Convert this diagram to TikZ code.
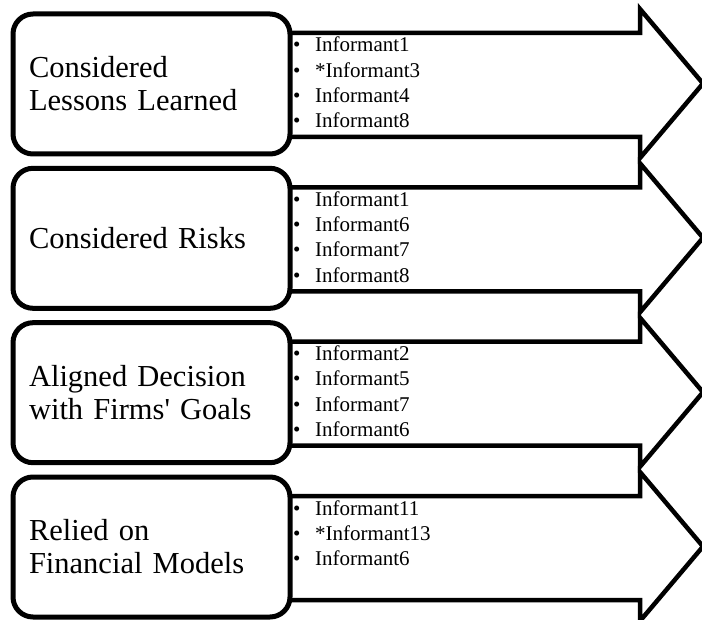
\documentclass[tikz,border=0pt]{standalone}
\usepackage{fontspec}
\setmainfont{Liberation Serif}[Ligatures=TeXOff]

\begin{document}
\begin{tikzpicture}[x=1pt,y=-1pt]
  \tikzset{theme/.style={draw, line width=5pt, rounded corners=20pt, fill=white,
      anchor=north west, outer sep=0pt, minimum width=277pt, minimum height=140pt,
      text width=245pt, align=left, inner xsep=16pt,
      font=\fontsize{30.5}{33}\selectfont},
    bigarrow/.style={draw, line width=4.5pt, fill=white},
    item/.style={anchor=base west, inner sep=0pt, font=\fontsize{21}{25}\selectfont}}
  \useasboundingbox (0,0) rectangle (702,620);

  % the four arrows behind the boxes
  \foreach \t in {14,168.3,322.7,477}
    \draw[bigarrow] (200,\t+19) -- (640,\t+19) -- (640,\t-5) -- (703,\t+69.5)
      -- (640,\t+144) -- (640,\t+123) -- (200,\t+123) -- cycle;

  \node[theme] (lessons) at (13,14) {Considered\\Lessons Learned};
  \node[theme] (risks) at (13,168.3) {Considered Risks};
  \node[theme] (goals) at (13,322.7) {Aligned Decision\\with Firms' Goals};
  \node[theme] (models) at (13,477) {Relied on\\Financial Models};

  % informants
  \foreach \n [count=\k] in {Informant1,*Informant3,Informant4,Informant8}
    \node[item] (lessons-\k) at (293,{52+25.3*(\k-1)}) {\makebox[22pt][l]{\textbullet}\n};
  \foreach \n [count=\k] in {Informant1,Informant6,Informant7,Informant8}
    \node[item] (risks-\k) at (293,{206.3+25.3*(\k-1)}) {\makebox[22pt][l]{\textbullet}\n};
  \foreach \n [count=\k] in {Informant2,Informant5,Informant7,Informant6}
    \node[item] (goals-\k) at (293,{360.7+25.3*(\k-1)}) {\makebox[22pt][l]{\textbullet}\n};
  \foreach \n [count=\k] in {Informant11,*Informant13,Informant6}
    \node[item] (models-\k) at (293,{515+25.3*(\k-1)}) {\makebox[22pt][l]{\textbullet}\n};
\end{tikzpicture}
\end{document}
